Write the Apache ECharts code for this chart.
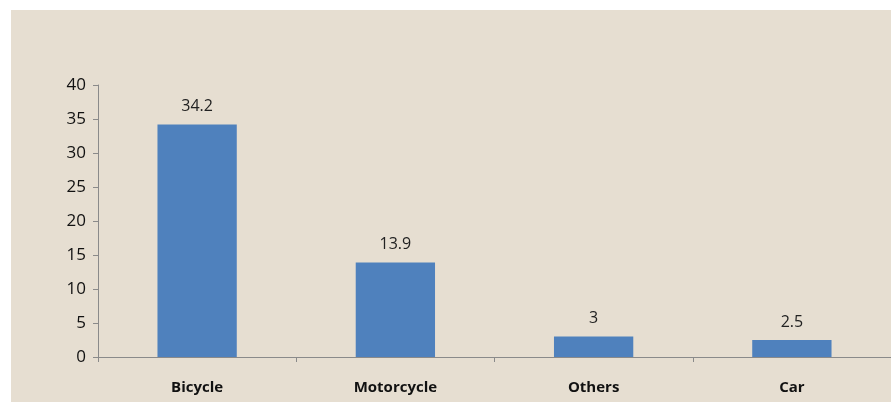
<!DOCTYPE html>
<html>
<head>
<meta charset="utf-8">
<script src="https://cdn.jsdelivr.net/npm/echarts@6/dist/echarts.min.js"></script>
<style>
  html, body { margin: 0; padding: 0; background: #fff; }
  #main { width: 891px; height: 402px; }
</style>
</head>
<body>
<div id="main"></div>
<script>
// data
var categories = ['Bicycle', 'Motorcycle', 'Others', 'Car'];
var values = [34.2, 13.9, 3, 2.5];

var myChart = echarts.init(document.getElementById('main'));

var option = {
    backgroundColor: '#ffffff',
    animation: false,
    graphic: [{
        type: 'rect',
        left: 11, top: 10,
        shape: { width: 880, height: 392 },
        style: { fill: '#e6ded1' },
        z: -10
    }],
    grid: { left: 98, right: 0, top: 85, bottom: 45 },
    xAxis: {
        type: 'category',
        data: categories,
        axisLine: { lineStyle: { color: '#8a8a8a' } },
        axisTick: { show: true, alignWithLabel: false, length: 5, lineStyle: { color: '#8a8a8a' } },
        axisLabel: { color: '#111', fontFamily: 'Open Sans', fontWeight: 'bold', fontSize: 15, margin: 23 }
    },
    yAxis: {
        type: 'value',
        min: 0, max: 40, interval: 5,
        axisLine: { show: true, lineStyle: { color: '#8a8a8a' } },
        axisTick: { show: true, length: 5, lineStyle: { color: '#8a8a8a' } },
        splitLine: { show: false },
        axisLabel: { color: '#111', fontFamily: 'Open Sans', fontSize: 17, margin: 12 }
    },
    series: [{
        type: 'bar',
        data: values,
        barWidth: '40%',
        itemStyle: { color: '#4f81bd' },
        label: { show: true, position: 'top', color: '#222', fontFamily: 'Open Sans', fontSize: 16, distance: 10 }
    }]
};

myChart.setOption(option);
</script>
</body>
</html>
